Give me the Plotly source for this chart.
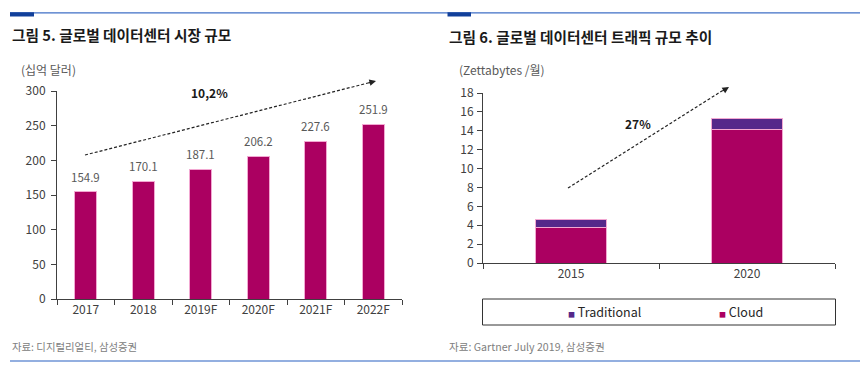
import plotly.graph_objects as go

W, H = 867, 371
FONT = "Noto Sans CJK KR"

# ---- data ----
market_years = ["2017", "2018", "2019F", "2020F", "2021F", "2022F"]
market_values = [154.9, 170.1, 187.1, 206.2, 227.6, 251.9]

traffic_years = ["2015", "2020"]
traffic_cloud = [3.8, 14.1]
traffic_traditional = [0.8, 1.2]

CLOUD = "#AB0061"
TRAD = "#55288A"
EDGE = "#F2A8D2"
AXIS = "#404040"
TXT = "#404040"


def px(x):
    return x / W


def py(y):
    return 1 - y / H


fig = go.Figure()

fig.add_trace(go.Bar(
    x=market_years, y=market_values, xaxis="x", yaxis="y",
    marker=dict(color=CLOUD, line=dict(color=EDGE, width=1)),
    width=0.38, showlegend=False, hoverinfo="x+y",
))

fig.add_trace(go.Bar(
    x=traffic_years, y=traffic_cloud, xaxis="x2", yaxis="y2", name="Cloud",
    marker=dict(color=CLOUD, line=dict(color=EDGE, width=1)),
    width=0.4, showlegend=False,
))
fig.add_trace(go.Bar(
    x=traffic_years, y=traffic_traditional, xaxis="x2", yaxis="y2", name="Traditional",
    marker=dict(color=TRAD, line=dict(color=EDGE, width=1)),
    width=0.4, showlegend=False,
))

axis_common = dict(
    showgrid=False, zeroline=False, showline=True, linecolor=AXIS, linewidth=1,
    ticks="outside", ticklen=5, tickcolor=AXIS, tickwidth=1, automargin=False,
    tickfont=dict(family=FONT, size=12, color=TXT), fixedrange=True,
)

fig.update_layout(
    width=W, height=H, margin=dict(l=0, r=0, t=0, b=0, pad=0, autoexpand=False),
    paper_bgcolor="white", plot_bgcolor="white",
    barmode="stack", bargap=0.6, showlegend=False,
    font=dict(family=FONT, color=TXT),
    xaxis=dict(domain=[px(57), px(402)], anchor="y", type="category", tickson="boundaries",
               range=[-0.5, len(market_years) - 0.5], tickangle=0, **axis_common),
    yaxis=dict(domain=[py(299), py(91)], anchor="x", range=[0, 300], dtick=50,
               ticklabelstandoff=3, **axis_common),
    xaxis2=dict(domain=[px(483), px(835)], anchor="y2", type="category", tickson="boundaries",
                range=[-0.5, len(traffic_years) - 0.5], tickangle=0, **axis_common),
    yaxis2=dict(domain=[py(263), py(93)], anchor="x2", range=[0, 18], dtick=2,
                ticklabelstandoff=1, **axis_common),
)

ann = []
# value labels over market bars (x given as category index)
for i, v in enumerate(market_values):
    ann.append(dict(x=i, y=v, xref="x", yref="y", text=f"{v:.1f}", showarrow=False,
                    yshift=15, font=dict(family=FONT, size=11.5, color="#595959")))

# titles
ann.append(dict(x=px(10), y=py(35), xref="paper", yref="paper", xanchor="left", yanchor="middle",
                text="<b>그림 5. 글로벌 데이터센터 시장 규모</b>", showarrow=False,
                font=dict(family=FONT, size=14.7, color="#1a1a1a")))
ann.append(dict(x=px(447), y=py(36), xref="paper", yref="paper", xanchor="left", yanchor="middle",
                text="<b>그림 6. 글로벌 데이터센터 트래픽 규모 추이</b>", showarrow=False,
                font=dict(family=FONT, size=14.7, color="#1a1a1a")))
# units
ann.append(dict(x=px(19), y=py(69), xref="paper", yref="paper", xanchor="left", yanchor="middle",
                text="(십억 달러)", showarrow=False, font=dict(family=FONT, size=12, color="#595959")))
ann.append(dict(x=px(457), y=py(70), xref="paper", yref="paper", xanchor="left", yanchor="middle",
                text="(Zettabytes /월)", showarrow=False, font=dict(family=FONT, size=12, color="#595959")))
# growth labels
ann.append(dict(x=px(209), y=py(92), xref="paper", yref="paper", xanchor="center", yanchor="middle",
                text="<b>10,2%</b>", showarrow=False, font=dict(family=FONT, size=12, color="#1a1a1a")))
ann.append(dict(x=px(638), y=py(123), xref="paper", yref="paper", xanchor="center", yanchor="middle",
                text="<b>27%</b>", showarrow=False, font=dict(family=FONT, size=12, color="#1a1a1a")))
# sources
ann.append(dict(x=px(10), y=py(346), xref="paper", yref="paper", xanchor="left", yanchor="middle",
                text="자료: 디지털리얼티, 삼성증권", showarrow=False,
                font=dict(family=FONT, size=10.4, color="#808080")))
ann.append(dict(x=px(447), y=py(346), xref="paper", yref="paper", xanchor="left", yanchor="middle",
                text="자료: Gartner July 2019, 삼성증권", showarrow=False,
                font=dict(family=FONT, size=10.6, color="#808080")))
# legend (manual)
ann.append(dict(x=px(566), y=py(311), xref="paper", yref="paper", xanchor="left", yanchor="middle",
                text=f"<span style='color:{TRAD};font-size:7px'>■</span> Traditional", showarrow=False,
                font=dict(family=FONT, size=12.5, color="#262626")))
ann.append(dict(x=px(717), y=py(311), xref="paper", yref="paper", xanchor="left", yanchor="middle",
                text=f"<span style='color:{CLOUD};font-size:7px'>■</span> Cloud", showarrow=False,
                font=dict(family=FONT, size=12.5, color="#262626")))


def arrow(x0, y0, x1, y1):
    dx, dy = x1 - x0, y1 - y0
    L = (dx * dx + dy * dy) ** 0.5
    return dict(x=px(x1), y=py(y1), xref="paper", yref="paper", showarrow=True,
                ax=-dx / L * 9, ay=-dy / L * 9, arrowhead=2, arrowsize=1.1, arrowwidth=1.2,
                arrowcolor="#222222", text="", standoff=0)


ann.append(arrow(85, 155, 376, 81))
ann.append(arrow(568, 188, 729, 87))

shapes = [
    # dashed trend lines
    dict(type="line", xref="paper", yref="paper", x0=px(85), y0=py(155), x1=px(372), y1=py(82),
         line=dict(color="#222222", width=1.2, dash="3px,2px")),
    dict(type="line", xref="paper", yref="paper", x0=px(568), y0=py(188), x1=px(725), y1=py(89),
         line=dict(color="#222222", width=1.2, dash="3px,2px")),
    # top rule
    dict(type="line", xref="paper", yref="paper", x0=px(10), y0=py(12.8), x1=px(860), y1=py(12.8),
         line=dict(color="#3F6FC6", width=1.3)),
    dict(type="rect", xref="paper", yref="paper", x0=px(10), y0=py(16.5), x1=px(34), y1=py(12.3),
         fillcolor="#12409A", line=dict(width=0)),
    dict(type="rect", xref="paper", yref="paper", x0=px(447.5), y0=py(16.5), x1=px(471), y1=py(12.3),
         fillcolor="#12409A", line=dict(width=0)),
    # bottom rule
    dict(type="line", xref="paper", yref="paper", x0=px(10), y0=py(361), x1=px(860), y1=py(361),
         line=dict(color="#6F94D6", width=1.3)),
    # legend box
    dict(type="rect", xref="paper", yref="paper", x0=px(482.5), y0=py(325), x1=px(835.5), y1=py(299),
         line=dict(color="#333333", width=1), fillcolor="rgba(0,0,0,0)"),
]

fig.update_layout(annotations=ann, shapes=shapes)
fig.write_html(
    "out.html",
    config={"displayModeBar": False},
    post_script="document.body.style.margin='0';document.body.style.overflow='hidden';",
)
